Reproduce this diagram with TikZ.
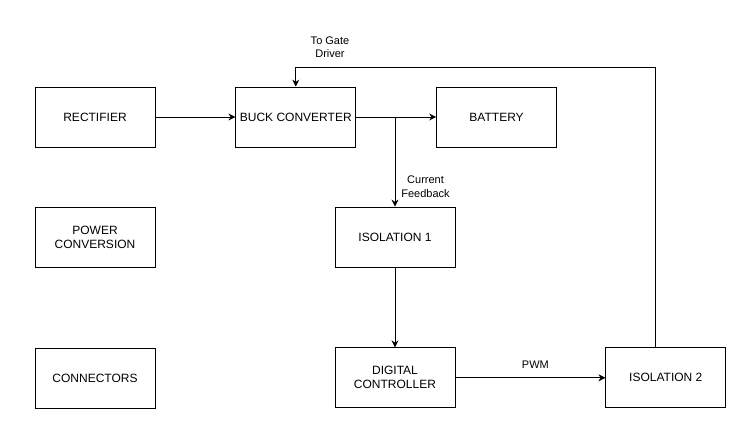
\documentclass[tikz,border=0pt]{standalone}
\usepackage{fontspec}
\setmainfont{Liberation Sans}
\usepackage{xcolor}
\usetikzlibrary{positioning,arrows.meta}

\begin{document}
\begin{tikzpicture}[x=1pt, y=-1pt, line width=0.8pt,
        block/.style={rectangle, draw, minimum width=120pt, minimum height=60pt, align=center, inner sep=2pt, font=\fontsize{12}{14}\selectfont},
        note/.style={align=center, inner sep=1pt, font=\fontsize{11}{13.5}\selectfont},
        >={Stealth[length=7pt, width=7pt]}, node distance=80pt]
        \useasboundingbox (0,0) rectangle (745,425);

        % Nodes
        \node[block] (rect) at (95,117) {RECTIFIER};
        \node[block, right=of rect] (buck) {BUCK CONVERTER};
        \node[block, right=of buck] (batt) {BATTERY};
        \node[block, below=60pt of rect] (pconv) {POWER\\CONVERSION};
        \node[block, below=of pconv] (conn) {CONNECTORS};
        \node[block] (iso1) at (395,237) {ISOLATION 1};
        \node[block, below=of iso1] (ctrl) {DIGITAL\\CONTROLLER};
        \node[block, right=150pt of ctrl] (iso2) {ISOLATION 2};
        \coordinate (top) at (655,67);

        % Arrows
        \draw[->] (rect) -- (buck);
        \draw[->] (buck) -- (batt);
        \draw[->] (iso1.north |- buck.east) -- node[note, pos=0.78, right=5pt] {Current\\Feedback} (iso1.north);
        \draw[->] (iso1) -- (ctrl);
        \draw[->] (ctrl) -- node[note, above=8pt, xshift=5pt] {PWM} (iso2);
        \draw[->] (top |- iso2.north) -- (top) -| (buck.north);
        \node[note] (gate) at (330,47) {To Gate\\Driver};
    \end{tikzpicture}
\end{document}
